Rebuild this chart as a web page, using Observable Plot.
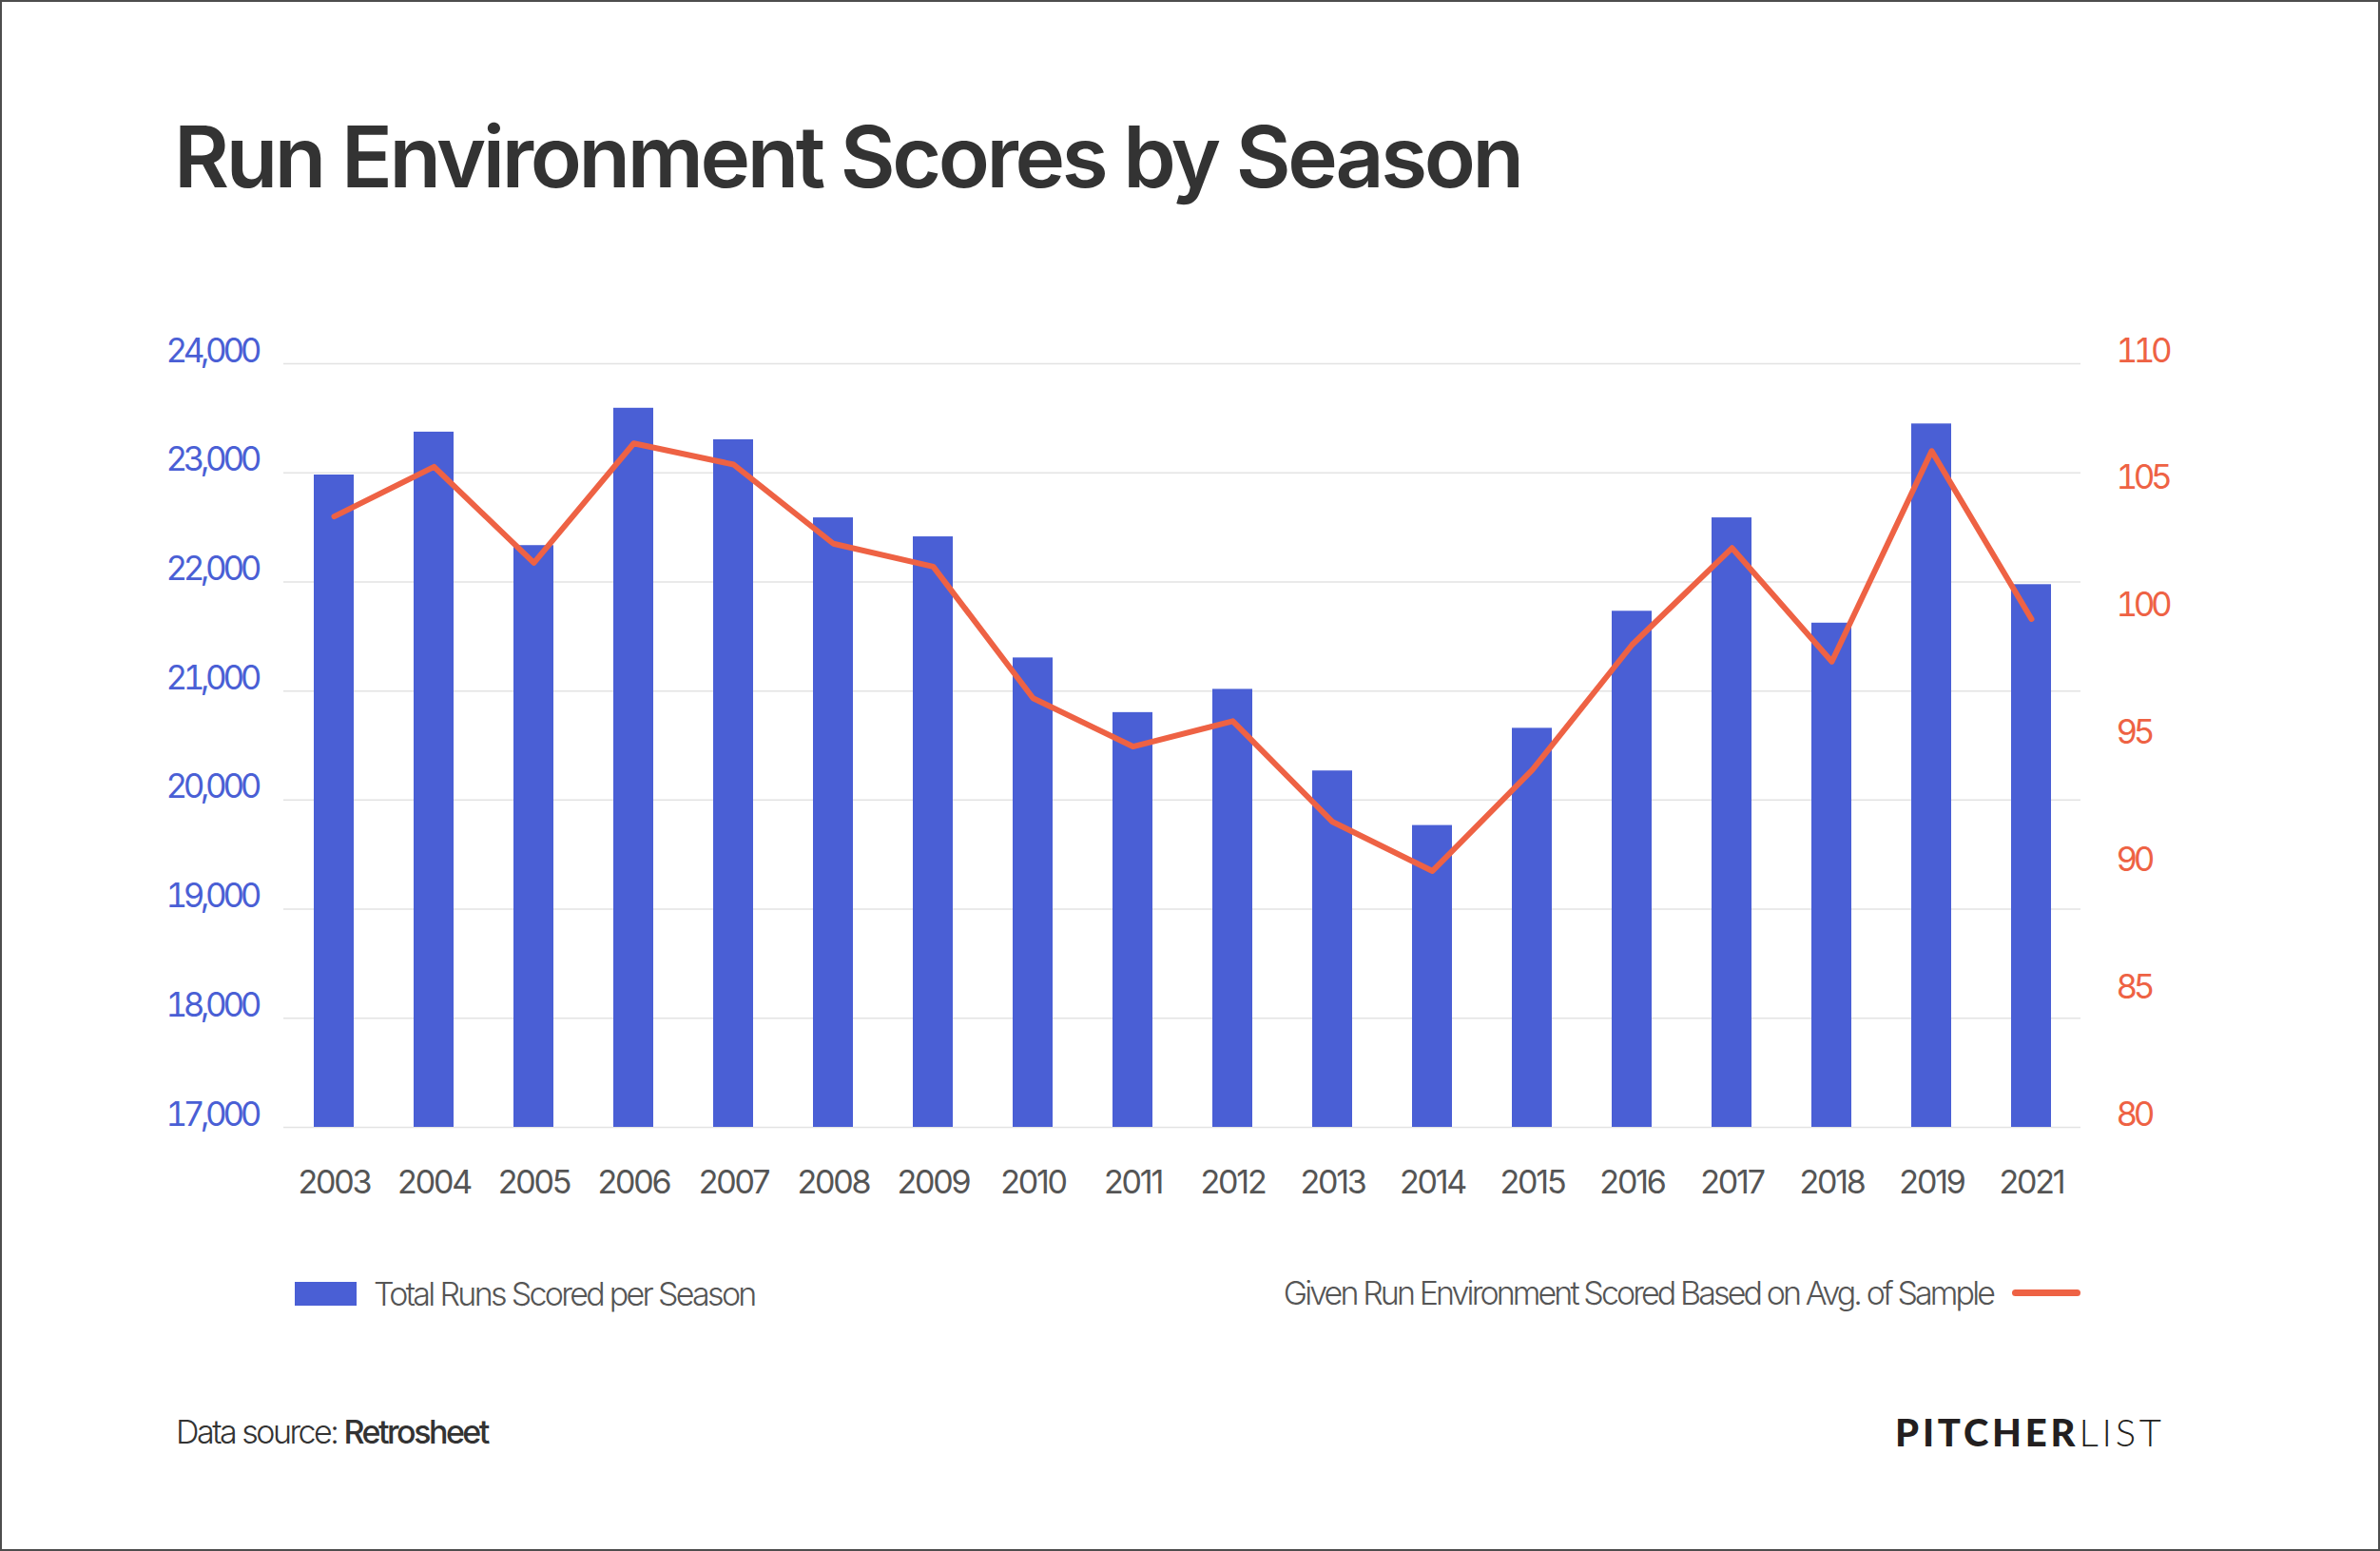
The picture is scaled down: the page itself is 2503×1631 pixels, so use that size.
<!DOCTYPE html>
<html><head><meta charset="utf-8">
<script src="https://cdn.jsdelivr.net/npm/d3@7"></script>
<script src="https://cdn.jsdelivr.net/npm/@observablehq/plot@0.6"></script>
<style>
html,body{margin:0;padding:0;background:#fff;}
#page{position:relative;width:2503px;height:1631px;overflow:hidden;font-family:Inter,sans-serif;background:#fff;}
#frame{position:absolute;left:0;top:0;right:0;bottom:0;border:2px solid #4d4d4d;pointer-events:none;}
.abs{position:absolute;line-height:1;white-space:nowrap;}
#title{left:183px;top:120px;font-size:89px;font-weight:600;letter-spacing:-0.038em;color:#333;}
.chart{position:absolute;left:0;top:300px;}
#legL .sw{position:absolute;left:310px;top:1348px;width:65px;height:25px;background:#4a5fd5;}
#legLt{left:393px;top:1344px;font-size:34px;font-weight:300;letter-spacing:-2.7px;color:#555;}
#legRt{right:407px;top:1343px;font-size:34px;font-weight:300;letter-spacing:-2.9px;color:#555;}
#legRsw{position:absolute;left:2116px;top:1356px;width:72px;height:7px;border-radius:4px;background:#ee6244;}
#src{left:185px;top:1489px;font-size:34px;color:#333;letter-spacing:-2.5px;}
#src .l{font-weight:300;}
#src .b{font-weight:500;}
#brand{left:1993px;top:1486px;font-family:Lato,sans-serif;font-size:40px;letter-spacing:0.095em;color:#231f20;}
#brand .b{font-weight:900;}
#brand .l{font-weight:300;}
svg [aria-label="y-axis tick label"] text{letter-spacing:-4.4px;}
svg [aria-label="x-axis tick label"] text{letter-spacing:-2.2px;}
</style>
</head><body>
<div id="page">
  <div id="title" class="abs">Run Environment Scores by Season</div>
  <div id="bars" class="chart"></div>
  <div id="scores" class="chart"></div>
  <div id="legL"><div class="sw"></div></div>
  <div id="legLt" class="abs">Total Runs Scored per Season</div>
  <div id="legRt" class="abs">Given Run Environment Scored Based on Avg. of Sample</div>
  <div id="legRsw"></div>
  <div id="src" class="abs"><span class="l">Data source: </span><span class="b">Retrosheet</span></div>
  <div id="brand" class="abs"><span class="b">PITCHER</span><span class="l">LIST</span></div>
  <div id="frame"></div>
</div>
<script>
const years = ["2003","2004","2005","2006","2007","2008","2009","2010","2011","2012","2013","2014","2015","2016","2017","2018","2019","2021"];
const runs = [22980,23373,22333,23592,23303,22587,22413,21303,20802,21015,20267,19767,20658,21731,22587,21622,23448,21975];
const scores = [104.0,105.95,102.18,106.87,106.04,102.93,102.03,96.86,94.96,95.96,92.0,90.07,94.04,98.96,102.76,98.3,106.57,99.97];
const runTicks = [17000,18000,19000,20000,21000,22000,23000,24000];
const scoreTicks = [80,85,90,95,100,105,110];

const rows = years.map((year, i) => ({year, runs: runs[i], score: scores[i]}));

const common = {
  width: 2503, height: 1000,
  marginTop: 82, marginBottom: 115, marginLeft: 298, marginRight: 315,
  style: {fontFamily: "Inter, sans-serif", background: "transparent", overflow: "visible"}
};
const xScale = {domain: years, paddingInner: 0.6, paddingOuter: 0.3};

const barsPlot = Plot.plot({
  ...common,
  x: xScale,
  y: {domain: [runTicks[0], runTicks[runTicks.length - 1]]},
  marks: [
    Plot.ruleY(runTicks, {stroke: "#e3e3e3", strokeWidth: 1.5}),
    Plot.barY(rows, {x: "year", y1: runTicks[0], y2: "runs", fill: "#4a5fd5"}),
    Plot.axisY(runTicks, {anchor: "left", tickSize: 0, tickPadding: 124, textAnchor: "start", lineAnchor: "bottom", dy: -2, fontSize: 35, fill: "#4a5fd5", tickFormat: d3.format(","), label: null}),
    Plot.axisX({tickSize: 0, tickPadding: 45, fontSize: 34, fill: "#555", label: null})
  ]
});
document.getElementById("bars").append(barsPlot);

const scorePlot = Plot.plot({
  ...common,
  x: {...xScale, axis: null},
  y: {domain: [scoreTicks[0], scoreTicks[scoreTicks.length - 1]]},
  marks: [
    Plot.lineY(rows, {x: "year", y: "score", stroke: "#ee6244", strokeWidth: 6, strokeLinejoin: "round", strokeLinecap: "round"}),
    Plot.axisY(scoreTicks, {anchor: "right", tickSize: 0, tickPadding: 37, textAnchor: "start", lineAnchor: "bottom", dy: -2, fontSize: 35, fill: "#ee6244", label: null})
  ]
});
document.getElementById("scores").append(scorePlot);
</script>
</body></html>
